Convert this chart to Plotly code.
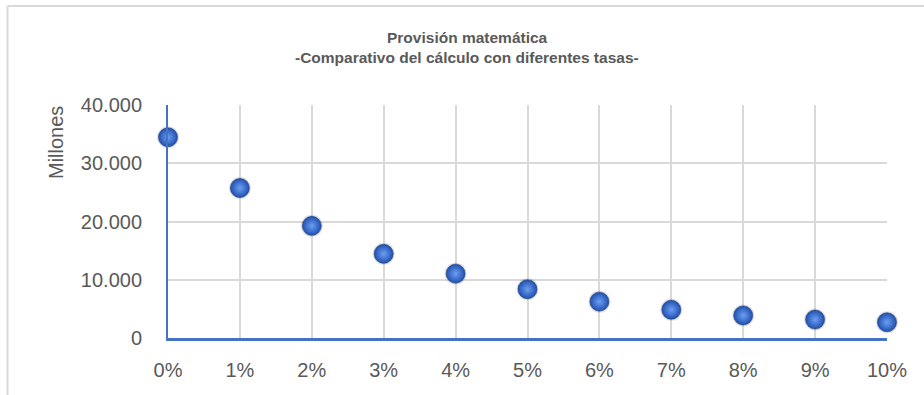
import plotly.graph_objects as go

tasas = [0.00, 0.01, 0.02, 0.03, 0.04, 0.05, 0.06, 0.07, 0.08, 0.09, 0.10]
provision_millones = [34460, 25750, 19250, 14450, 11050, 8370, 6240, 4850, 3870, 3170, 2700]
y_ticks = [0, 10000, 20000, 30000, 40000]

W, H = 924, 395
ML, MR, MT, MB = 168, 37, 105, 57
PW = W - ML - MR
PH = H - MT - MB

def px_x(px):
    return (px - ML) / PW

def px_y(py):
    return (H - MB - py) / PH

fig = go.Figure()

# shadow
fig.add_trace(go.Scatter(
    x=tasas, y=provision_millones, mode="markers",
    marker=dict(size=22, color="rgba(60,60,60,0.16)", line=dict(width=0)),
    hoverinfo="skip", cliponaxis=False, showlegend=False))

fig.add_trace(go.Scatter(
    x=tasas, y=provision_millones, mode="markers",
    marker=dict(size=19, color="#2150b0",
                gradient=dict(type="radial", color="#6a9ff2"),
                line=dict(width=0.6, color="#1b3a80")),
    cliponaxis=False, showlegend=False))

font_main = "Liberation Sans, Arial, sans-serif"

fig.update_layout(
    width=W, height=H,
    margin=dict(l=ML, r=MR, t=MT, b=MB, autoexpand=False),
    paper_bgcolor="white", plot_bgcolor="white",
    separators=",.",
    showlegend=False,
    xaxis=dict(range=[0, 0.10], tickvals=tasas, tickformat=".0%",
               showgrid=True, gridcolor="#d9d9d9", gridwidth=1.5,
               showline=True, linecolor="#4472c4", linewidth=2.5,
               zeroline=False, ticks="", ticklabelstandoff=12, automargin=False,
               tickfont=dict(family=font_main, size=20, color="#595959")),
    yaxis=dict(range=[0, 40000], tickvals=y_ticks, tickformat=",.0f",
               showgrid=True, gridcolor="#d9d9d9", gridwidth=1.5,
               showline=True, linecolor="#4472c4", linewidth=2,
               zeroline=False, ticks="", ticklabelstandoff=20, automargin=False,
               tickfont=dict(family=font_main, size=20, color="#595959")),
    shapes=[
        dict(type="line", xref="paper", yref="paper",
             x0=px_x(7.5), x1=px_x(930), y0=px_y(6), y1=px_y(6),
             line=dict(color="#d9d9d9", width=2)),
        dict(type="line", xref="paper", yref="paper",
             x0=px_x(7.5), x1=px_x(7.5), y0=px_y(6), y1=px_y(400),
             line=dict(color="#d9d9d9", width=2)),
    ],
    annotations=[
        dict(text="<b>Provisión matemática</b>", xref="paper", yref="paper",
             x=px_x(467), y=px_y(38), showarrow=False, xanchor="center", yanchor="middle",
             font=dict(family=font_main, size=15.5, color="#595959")),
        dict(text="<b>-Comparativo del cálculo con diferentes tasas-</b>", xref="paper", yref="paper",
             x=px_x(467), y=px_y(57), showarrow=False, xanchor="center", yanchor="middle",
             font=dict(family=font_main, size=15.5, color="#595959")),
        dict(text="Millones", xref="paper", yref="paper", textangle=-90,
             x=px_x(56), y=px_y(143), showarrow=False, xanchor="center", yanchor="middle",
             font=dict(family=font_main, size=20, color="#595959")),
    ],
)

fig.write_html("out.html")
